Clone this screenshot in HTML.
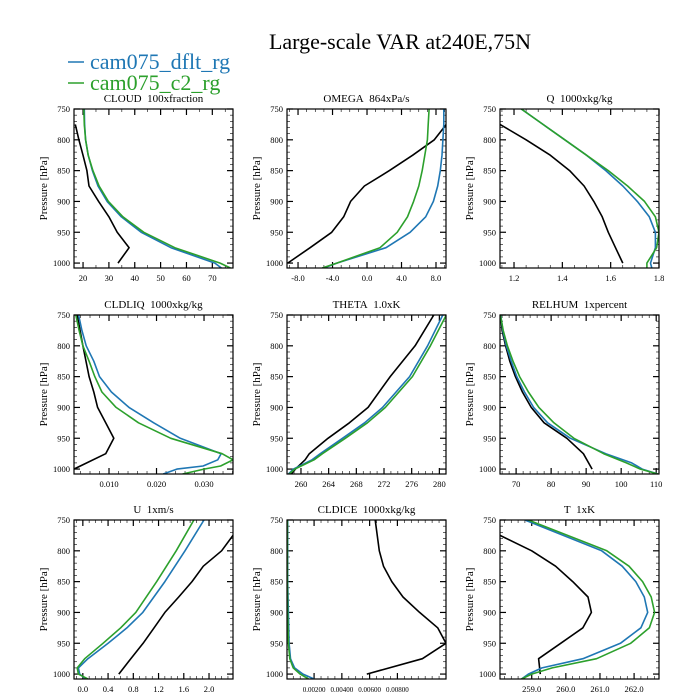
<!DOCTYPE html>
<html><head><meta charset="utf-8"><style>
body{margin:0;background:#fff;}
svg{display:block;font-family:"Liberation Serif",serif;}
</style></head><body>
<svg id="c" width="700" height="700" xmlns="http://www.w3.org/2000/svg">
<text x="400" y="49" font-size="22" text-anchor="middle">Large-scale VAR at240E,75N</text>
<g>
<line x1="68" y1="62" x2="84" y2="62" stroke="#1f77b4" stroke-width="1.5"/>
<text x="90" y="69" font-size="22" fill="#1f77b4">cam075_dflt_rg</text>
<line x1="68" y1="83" x2="84" y2="83" stroke="#2ca02c" stroke-width="1.5"/>
<text x="90" y="90" font-size="22" fill="#2ca02c">cam075_c2_rg</text>
</g>
</svg>
<script>
// Shared pressure levels
const modelLev = [750,775,800,825,850,875,900,925,950,975,1000,1008];
const obsLev = [775,800,825,850,875,900,925,950,975,1000];
// CLOUD
const cloudObs = [17,18.4,20,21.5,22.3,26,30,33.2,37.8,33.5];
const cloudBlue = [20.5,20.6,21,22,23.6,25.8,29.3,34.8,42.5,54,71,73.5];
const cloudGreen = [20.3,20.5,21,22,23.8,26.2,29.8,35.4,43.5,55.5,73,77];
// OMEGA
const omegaObs = [9.2,7.8,5.3,2.6,-0.3,-1.9,-2.7,-4.1,-6.6,-9.2];
const omegaBlue = [8.9,8.9,8.8,8.7,8.5,8.2,7.7,6.8,5.0,2.2,-3.5,-5];
const omegaGreen = [7.2,7.1,7.0,6.7,6.4,6.0,5.4,4.7,3.5,1.5,-3.5,-5.2];
// Q
const qObs = [1.142,1.25,1.35,1.43,1.49,1.53,1.565,1.59,1.62,1.65];
const qBlue = [1.23,1.32,1.41,1.5,1.58,1.65,1.71,1.76,1.785,1.785,1.765,1.77];
const qGreen = [1.23,1.32,1.41,1.5,1.59,1.67,1.74,1.785,1.8,1.79,1.75,1.75];
// CLDLIQ
const liqObsLev = [750,800,850,875,900,925,950,975,1000];
const liqObs = [0.0033,0.0045,0.0058,0.0068,0.0076,0.0093,0.011,0.0093,0.0026];
const liqLev = [750,775,800,825,850,875,900,925,950,975,985,995,1000,1008];
const liqBlue = [0.0036,0.0043,0.0052,0.0068,0.0080,0.0105,0.0142,0.0194,0.0250,0.0336,0.0329,0.0298,0.0243,0.0214];
const liqGreen = [0.0030,0.0037,0.0045,0.0058,0.0070,0.0085,0.0115,0.0162,0.0230,0.0338,0.0361,0.0335,0.0300,0.0255];
// THETA
const thLev = [750,800,850,900,925,950,975,985,1000,1008];
const thObs = [279.2,276.5,272.9,269.7,267.0,263.9,261.2,260.6,259.2,258.6];
const thBlue = [280.5,278.3,275.7,271.8,269.2,266,262.8,261.6,258.9,258.2];
const thGreen = [281,278.7,276.1,272.2,269.6,266.4,263.1,261.9,259.1,258.3];
// RELHUM
const rhLev = [750,775,800,825,850,875,900,925,950,975,990,1000,1008];
const rhObsLev = [750,775,800,825,850,875,900,925,950,975,1000];
const rhObs = [65.6,66,67,68.2,69.8,71.8,74.3,78,84.5,89.2,91.7];
const rhBlue = [65.6,66.2,67.2,68.6,70.2,72.4,75,79,85.5,95.6,103,106,110.5];
const rhGreen = [65.5,66.3,67.5,69.1,71,73.5,76.5,80.8,86.5,95,101.5,105.5,110.5];
// U
const uObsLev = [775,800,825,850,875,900,925,950,975,1000];
const uObs = [2.38,2.2,1.91,1.73,1.52,1.30,1.13,0.955,0.76,0.57];
const uLev = [750,800,850,900,925,950,975,990,1000,1008];
const uBlue = [1.92,1.62,1.3,0.95,0.7,0.4,0.08,-0.07,-0.05,0.05];
const uGreen = [1.76,1.48,1.17,0.84,0.6,0.32,0.03,-0.09,-0.07,0.08];
// CLDICE
const iceObsLev = [750,800,825,850,875,900,925,950,975,1000];
const iceObs = [0.0064,0.0067,0.0070,0.0076,0.0084,0.0096,0.0109,0.0115,0.0098,0.0058];
const iceLev = [750,850,900,950,975,990,1000,1008];
const iceBlue = [0.0001,0.0001,0.00015,0.0002,0.0003,0.0006,0.0012,0.002];
const iceGreen = [0.00008,0.00008,0.0001,0.00015,0.00025,0.0005,0.001,0.0016];
// T
const tObsLev = [775,800,825,850,875,900,925,950,975,1000];
const tObs = [258.07,259.0,259.7,260.2,260.65,260.75,260.5,259.85,259.2,259.25];
const tLev = [750,800,825,850,875,900,925,950,975,990,1000,1008];
const tBlue = [258.8,261.05,261.65,262.05,262.3,262.4,262.2,261.6,260.5,259.3,258.9,258.7];
const tGreen = [258.9,261.2,261.85,262.25,262.5,262.6,262.45,261.9,260.9,259.6,259.0,258.7];

// Tick labels
const yTicks = [750,800,850,900,950,1000];
const cloudTicks = [20,30,40,50,60,70];
const omegaTicks = [-8,-4,0,4,8];
const qTicks = [1.2,1.4,1.6,1.8];
const liqTicks = [0.01,0.02,0.03];
const thTicks = [260,264,268,272,276,280];
const rhTicks = [70,80,90,100,110];
const uTicks = [0,0.4,0.8,1.2,1.6,2.0];
const iceTicks = [0.002,0.004,0.006,0.008];
const tTicks = [259,260,261,262];

const NS="http://www.w3.org/2000/svg";
const svg=document.getElementById('c');
function mk(tag,attrs,parent){const e=document.createElementNS(NS,tag);for(const k in attrs)e.setAttribute(k,attrs[k]);(parent||svg).appendChild(e);return e;}

const panels=[
 {name:'cloud',title:'CLOUD\u00a0\u00a0100xfraction',x:74,y:109,xmin:16.5,xmax:78,ticks:cloudTicks,fmt:v=>v.toFixed(0),minor:5,
  series:[[obsLev,cloudObs,'#000'],[modelLev,cloudBlue,'#1f77b4'],[modelLev,cloudGreen,'#2ca02c']]},
 {name:'omega',title:'OMEGA\u00a0\u00a0864xPa/s',x:287,y:109,xmin:-9.28,xmax:9.16,ticks:omegaTicks,fmt:v=>v.toFixed(1),minor:1,
  series:[[obsLev,omegaObs,'#000'],[modelLev,omegaBlue,'#1f77b4'],[modelLev,omegaGreen,'#2ca02c']]},
 {name:'q',title:'Q\u00a0\u00a01000xkg/kg',x:500,y:109,xmin:1.142,xmax:1.8,ticks:qTicks,fmt:v=>v.toFixed(1),minor:0.05,
  series:[[obsLev,qObs,'#000'],[modelLev,qBlue,'#1f77b4'],[modelLev,qGreen,'#2ca02c']]},
 {name:'cldliq',title:'CLDLIQ\u00a0\u00a01000xkg/kg',x:74,y:315,xmin:0.00263,xmax:0.0361,ticks:liqTicks,fmt:v=>v.toFixed(3),minor:0.002,
  series:[[liqObsLev,liqObs,'#000'],[liqLev,liqBlue,'#1f77b4'],[liqLev,liqGreen,'#2ca02c']]},
 {name:'theta',title:'THETA\u00a0\u00a01.0xK',x:287,y:315,xmin:257.98,xmax:280.96,ticks:thTicks,fmt:v=>v.toFixed(0),minor:1,
  series:[[thLev,thObs,'#000'],[thLev,thBlue,'#1f77b4'],[thLev,thGreen,'#2ca02c']]},
 {name:'relhum',title:'RELHUM\u00a0\u00a01xpercent',x:500,y:315,xmin:65.4,xmax:110.8,ticks:rhTicks,fmt:v=>v.toFixed(0),minor:2,
  series:[[rhObsLev,rhObs,'#000'],[rhLev,rhBlue,'#1f77b4'],[rhLev,rhGreen,'#2ca02c']]},
 {name:'u',title:'U\u00a0\u00a01xm/s',x:74,y:520,xmin:-0.14,xmax:2.38,ticks:uTicks,fmt:v=>v.toFixed(1),minor:0.1,
  series:[[uObsLev,uObs,'#000'],[uLev,uBlue,'#1f77b4'],[uLev,uGreen,'#2ca02c']]},
 {name:'cldice',title:'CLDICE\u00a0\u00a01000xkg/kg',x:287,y:520,xmin:0.00005,xmax:0.0115,ticks:iceTicks,fmt:v=>v.toFixed(5),minor:0.0005,fs:7,
  series:[[iceObsLev,iceObs,'#000'],[iceLev,iceBlue,'#1f77b4'],[iceLev,iceGreen,'#2ca02c']]},
 {name:'t',title:'T\u00a0\u00a01xK',x:500,y:520,xmin:258.07,xmax:262.73,ticks:tTicks,fmt:v=>v.toFixed(1),minor:0.2,
  series:[[tObsLev,tObs,'#000'],[tLev,tBlue,'#1f77b4'],[tLev,tGreen,'#2ca02c']]}
];
const W=159,H=159,PMIN=750,PMAX=1008;
const names=['obs','dflt','c2'];
panels.forEach(p=>{
 const g=mk('g',{});
 
 
 const sx=v=>p.x+(v-p.xmin)/(p.xmax-p.xmin)*W;
 const sy=v=>p.y+(v-PMIN)/(PMAX-PMIN)*H;
 const t=mk('text',{x:p.x+W/2,y:p.y-7,'font-size':11,'text-anchor':'middle'},g);
 t.textContent=p.title;
 
 
 const yl=mk('text',{x:0,y:0,'font-size':11,'text-anchor':'middle',transform:`translate(${p.x-27},${p.y+H/2}) rotate(-90)`},g);
 yl.textContent='Pressure [hPa]';
 
 
 for(let v=760;v<PMAX;v+=10){ if(v%50===0)continue; const y=sy(v);
  mk('line',{x1:p.x,x2:p.x+3,y1:y,y2:y,stroke:'#000','stroke-width':0.6},g);
  mk('line',{x1:p.x+W,x2:p.x+W-3,y1:y,y2:y,stroke:'#000','stroke-width':0.6},g);}
 yTicks.forEach(v=>{const y=sy(v);
  mk('line',{x1:p.x,x2:p.x+6,y1:y,y2:y,stroke:'#000','stroke-width':1.2},g);
  mk('line',{x1:p.x+W,x2:p.x+W-6,y1:y,y2:y,stroke:'#000','stroke-width':1.2},g);
  const l=mk('text',{x:p.x-4,y:y+3,'font-size':8.5,'text-anchor':'end'},g); l.textContent=v;
  
  });
 const s0=Math.ceil(p.xmin/p.minor-1e-9);
 for(let k=s0;k*p.minor<=p.xmax;k++){const x=sx(k*p.minor);
  mk('line',{x1:x,x2:x,y1:p.y,y2:p.y+3,stroke:'#000','stroke-width':0.6},g);
  mk('line',{x1:x,x2:x,y1:p.y+H,y2:p.y+H-3,stroke:'#000','stroke-width':0.6},g);}
 p.ticks.forEach(v=>{const x=sx(v);
  mk('line',{x1:x,x2:x,y1:p.y,y2:p.y+6,stroke:'#000','stroke-width':1.2},g);
  mk('line',{x1:x,x2:x,y1:p.y+H,y2:p.y+H-6,stroke:'#000','stroke-width':1.2},g);
  const l=mk('text',{x:x,y:p.y+H+13,'font-size':p.fs||8.5,'text-anchor':'middle'},g); l.textContent=p.fmt(v);
  
  });
 const cp='clip-'+p.name;
 const cpe=mk('clipPath',{id:cp},g); mk('rect',{x:p.x,y:p.y,width:W,height:H},cpe);
 p.series.forEach((s,i)=>{
  const pts=s[0].map((lev,j)=>sx(s[1][j]).toFixed(1)+','+sy(lev).toFixed(1)).join(' ');
  const pl=mk('polyline',{points:pts,fill:'none',stroke:s[2],'stroke-width':1.6,'stroke-linejoin':'round','clip-path':`url(#${cp})`},g);
  
  
 });
 const fr=mk('rect',{x:p.x,y:p.y,width:W,height:H,fill:'none',stroke:'#000','stroke-width':1.2},g);
 
 
});
</script>
</body></html>
